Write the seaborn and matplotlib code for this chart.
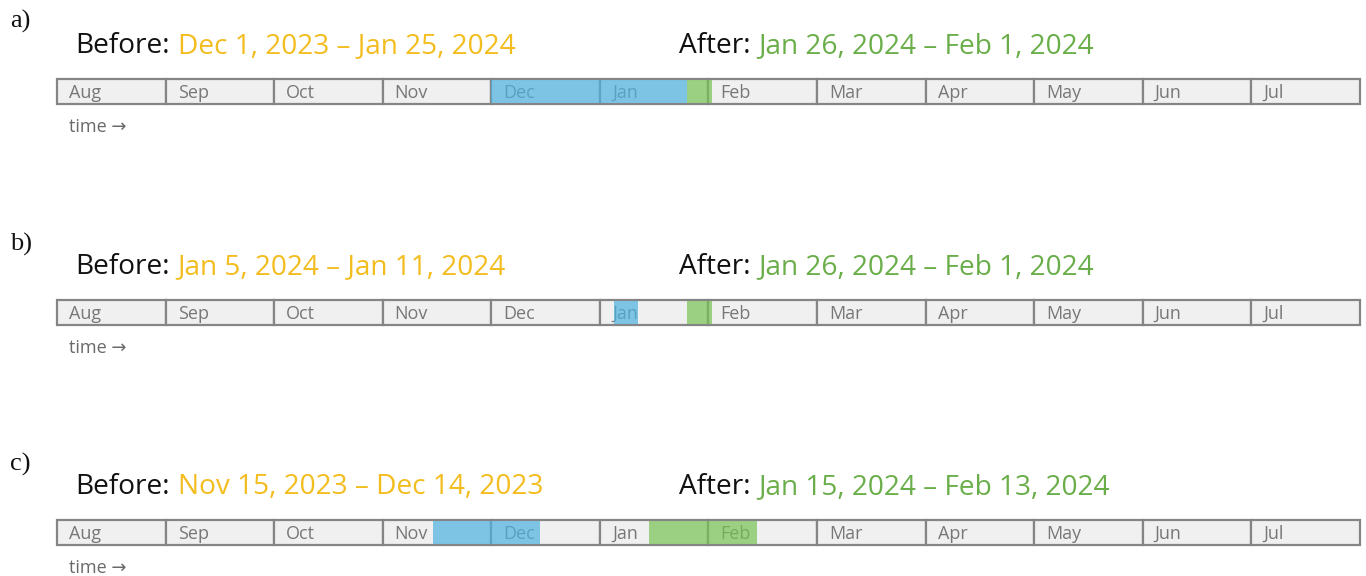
import matplotlib
matplotlib.use("Agg")
import matplotlib.pyplot as plt
import seaborn as sns
from datetime import date

sns.set_theme(style="white")
plt.rcParams["font.family"] = ["Open Sans", "DejaVu Sans"]

# ---- data ----
months = ["Aug", "Sep", "Oct", "Nov", "Dec", "Jan", "Feb", "Mar", "Apr", "May", "Jun", "Jul"]
month_days = [31, 30, 31, 30, 31, 31, 29, 31, 30, 31, 30, 31]
panel_labels = ["a)", "b)", "c)"]
before_labels = ["Dec 1, 2023 \u2013 Jan 25, 2024", "Jan 5, 2024 \u2013 Jan 11, 2024", "Nov 15, 2023 \u2013 Dec 14, 2023"]
after_labels = ["Jan 26, 2024 \u2013 Feb 1, 2024", "Jan 26, 2024 \u2013 Feb 1, 2024", "Jan 15, 2024 \u2013 Feb 13, 2024"]
before_start = [date(2023, 12, 1), date(2024, 1, 5), date(2023, 11, 15)]
before_end = [date(2024, 1, 25), date(2024, 1, 11), date(2023, 12, 14)]
after_start = [date(2024, 1, 26), date(2024, 1, 26), date(2024, 1, 15)]
after_end = [date(2024, 2, 1), date(2024, 2, 1), date(2024, 2, 13)]

BLUE = "#4db1df"
GREEN = "#77c153"
YELLOW = "#f3bd1f"
GREEN_TXT = "#6aae4a"
EDGE = "#858585"
CELL = "#f0f0f0"
MONTH_TXT = "#777777"


def pos(d, end=False):
    idx = (d.year - 2023) * 12 + d.month - 8
    n = month_days[idx]
    return idx + (d.day if end else d.day - 1) / n


W, H = 1366, 576
fig = plt.figure(figsize=(W / 100, H / 100), dpi=100)
bar_tops = [79, 300, 520]
bar_h = 25
x0, x1 = 57, 1360
label_y = [21, 244, 464]

for k in range(3):
    top = bar_tops[k]
    ax = fig.add_axes([x0 / W, 1 - (top + bar_h) / H, (x1 - x0) / W, bar_h / H])
    ax.set_xlim(0, 12)
    ax.set_ylim(0, 1)
    ax.axis("off")
    ax.barh(0.5, [1] * 12, left=list(range(12)), height=1, color=CELL,
            edgecolor=EDGE, linewidth=1.6, clip_on=False, zorder=1)
    for i, m in enumerate(months):
        ax.text(i + 12 / 108.6, 0.45, m, ha="left", va="center", color=MONTH_TXT,
                fontsize=13, zorder=2)
    bs, be = pos(before_start[k]), pos(before_end[k], True)
    as_, ae = pos(after_start[k]), pos(after_end[k], True)
    ax.barh(0.5, be - bs, left=bs, height=0.92, color=BLUE, alpha=0.7, linewidth=0, zorder=3)
    ax.barh(0.5, ae - as_, left=as_, height=0.92, color=GREEN, alpha=0.7, linewidth=0, zorder=3)

    t1 = ax.annotate("Before:", xy=(0, 1), xycoords="axes fraction", xytext=(18, 26),
                     textcoords="offset pixels", ha="left", va="baseline",
                     fontsize=20.2, color="#111111", annotation_clip=False)
    ax.annotate(before_labels[k], xy=(1, 0), xycoords=t1, xytext=(8, 0),
                textcoords="offset pixels", ha="left", va="bottom",
                fontsize=20.2, color=YELLOW, annotation_clip=False)
    t2 = ax.annotate("After:", xy=(0, 1), xycoords="axes fraction", xytext=(622, 26),
                     textcoords="offset pixels", ha="left", va="baseline",
                     fontsize=20.2, color="#111111", annotation_clip=False)
    ax.annotate(after_labels[k], xy=(1, 0), xycoords=t2, xytext=(8, 0),
                textcoords="offset pixels", ha="left", va="bottom",
                fontsize=20.2, color=GREEN_TXT, annotation_clip=False)
    ax.annotate("time \u2192", xy=(0, 0), xycoords="axes fraction", xytext=(12, -23),
                textcoords="offset pixels", ha="left", va="center",
                fontsize=13, color="#6a6a6a", annotation_clip=False)

    fig.text(10 / W, 1 - label_y[k] / H, panel_labels[k], ha="left", va="center",
             fontsize=19, color="#111111", family=["Liberation Serif", "DejaVu Serif"])

fig.savefig("out.png", dpi=100, facecolor="white")
